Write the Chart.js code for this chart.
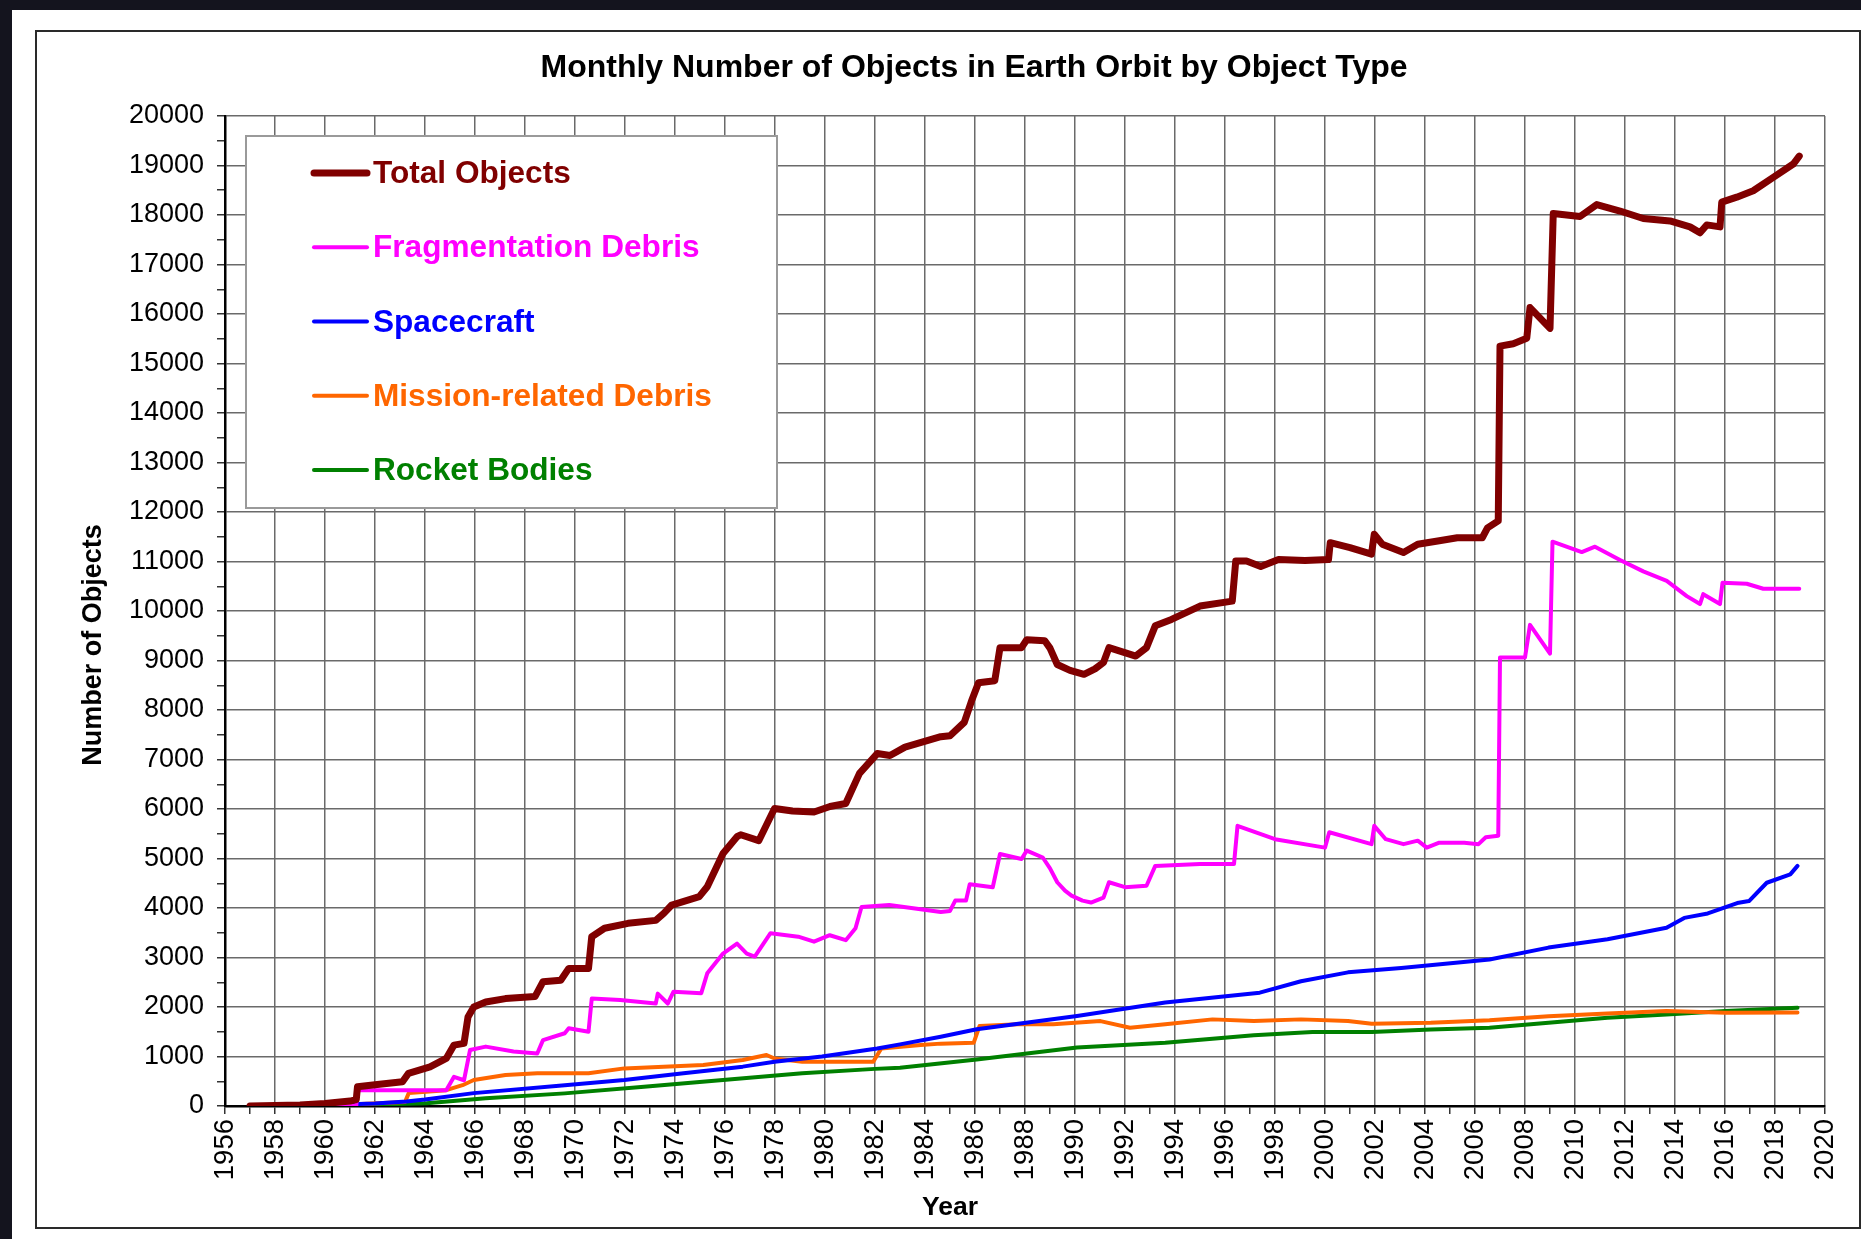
<!DOCTYPE html>
<html>
<head>
<meta charset="utf-8">
<script src="https://cdn.jsdelivr.net/npm/chart.js@4.4.1/dist/chart.umd.min.js"></script>
<style>
html,body{margin:0;padding:0;background:#14141e;overflow:hidden}
canvas{display:block}
</style>
</head>
<body>
<canvas id="c" width="1861" height="1239"></canvas>
<script>
const FONT = "'Liberation Sans', Arial, Helvetica, sans-serif";

const chartTitle = 'Monthly Number of Objects in Earth Orbit by Object Type';
const xAxisTitle = 'Year';
const yAxisTitle = 'Number of Objects';
const seriesNames = ['Total Objects', 'Fragmentation Debris', 'Spacecraft', 'Mission-related Debris', 'Rocket Bodies'];
const seriesColors = ['#800000', '#ff00ff', '#0000ff', '#ff6600', '#008000'];

const xTickMin = 1956, xTickMax = 2020, xTickStep = 1, xLabelEvery = 2;
const yTickMin = 0, yTickMax = 20000, yTickStep = 500, yLabelEvery = 1000;

const totalYears = [1957.0, 1958.0, 1959.0, 1960.0, 1961.0, 1961.25, 1961.3, 1962.0, 1963.1, 1963.34, 1964.2, 1964.85, 1965.16, 1965.56, 1965.72, 1965.95, 1966.43, 1967.22, 1968.4, 1968.72, 1969.43, 1969.75, 1970.54, 1970.67, 1971.18, 1972.12, 1973.23, 1973.55, 1973.87, 1974.97, 1975.29, 1975.92, 1976.48, 1976.63, 1977.35, 1977.98, 1978.7, 1979.56, 1980.2, 1980.83, 1981.38, 1982.09, 1982.6, 1983.2, 1984.63, 1985.0, 1985.57, 1985.86, 1986.14, 1986.79, 1987.0, 1987.86, 1988.07, 1988.79, 1989.0, 1989.29, 1989.8, 1990.36, 1990.8, 1991.14, 1991.36, 1992.43, 1992.86, 1993.21, 1993.86, 1995.0, 1996.29, 1996.43, 1996.86, 1997.43, 1998.14, 1999.2, 2000.14, 2000.21, 2001.0, 2001.86, 2001.97, 2002.29, 2003.14, 2003.71, 2004.57, 2005.29, 2006.29, 2006.5, 2006.93, 2007.0, 2007.53, 2008.07, 2008.2, 2009.0, 2009.13, 2010.2, 2010.87, 2011.8, 2012.73, 2013.8, 2014.6, 2015.0, 2015.27, 2015.8, 2015.87, 2016.47, 2017.13, 2017.93, 2018.73, 2018.97];
const totalValues = [0, 10, 20, 50, 100, 130, 390, 430, 490, 660, 790, 960, 1230, 1265, 1800, 2000, 2100, 2170, 2210, 2510, 2540, 2780, 2780, 3420, 3590, 3690, 3750, 3890, 4060, 4230, 4430, 5100, 5440, 5480, 5360, 6010, 5960, 5940, 6050, 6110, 6720, 7120, 7080, 7250, 7460, 7480, 7750, 8180, 8550, 8590, 9260, 9260, 9420, 9400, 9250, 8920, 8800, 8720, 8830, 8960, 9260, 9090, 9260, 9700, 9830, 10100, 10200, 11010, 11010, 10900, 11040, 11020, 11040, 11380, 11280, 11150, 11550, 11350, 11180, 11350, 11420, 11480, 11480, 11680, 11820, 15350, 15400, 15510, 16130, 15710, 18030, 17970, 18210, 18080, 17930, 17880, 17760, 17640, 17800, 17760, 18260, 18360, 18490, 18760, 19030, 19190];

const fragYears = [1957.0, 1961.25, 1961.3, 1964.85, 1965.16, 1965.56, 1965.8, 1966.43, 1967.54, 1968.49, 1968.72, 1969.59, 1969.75, 1970.54, 1970.67, 1971.81, 1973.23, 1973.31, 1973.71, 1973.94, 1975.05, 1975.29, 1975.92, 1976.48, 1976.87, 1977.19, 1977.82, 1978.93, 1979.56, 1980.19, 1980.83, 1981.22, 1981.46, 1982.57, 1984.63, 1985.0, 1985.21, 1985.64, 1985.79, 1986.71, 1987.0, 1987.86, 1988.07, 1988.71, 1989.0, 1989.29, 1989.6, 1989.86, 1990.3, 1990.64, 1991.14, 1991.36, 1992.0, 1992.86, 1993.21, 1995.0, 1996.36, 1996.5, 1998.0, 2000.0, 2000.17, 2001.86, 2001.97, 2002.43, 2003.14, 2003.71, 2004.07, 2004.57, 2005.57, 2006.14, 2006.43, 2006.93, 2007.0, 2008.0, 2008.2, 2009.0, 2009.1, 2010.27, 2010.8, 2011.8, 2012.73, 2013.67, 2014.47, 2015.0, 2015.13, 2015.8, 2015.9, 2016.87, 2017.53, 2018.97];
const fragValues = [0, 0, 320, 320, 590, 520, 1130, 1200, 1100, 1060, 1330, 1470, 1570, 1500, 2170, 2140, 2070, 2270, 2070, 2310, 2280, 2680, 3080, 3280, 3080, 3020, 3490, 3420, 3320, 3450, 3350, 3590, 4020, 4060, 3920, 3940, 4150, 4150, 4480, 4420, 5090, 4990, 5160, 5020, 4800, 4520, 4350, 4250, 4150, 4110, 4210, 4520, 4420, 4450, 4850, 4890, 4890, 5660, 5390, 5220, 5530, 5290, 5660, 5390, 5290, 5360, 5220, 5320, 5320, 5290, 5430, 5460, 9060, 9060, 9720, 9140, 11400, 11190, 11300, 11030, 10800, 10610, 10300, 10140, 10340, 10140, 10570, 10550, 10450, 10450];

const craftYears = [1957.0, 1960.0, 1962.0, 1963.26, 1964.0, 1965.95, 1969.59, 1971.97, 1974.34, 1976.71, 1977.98, 1979.88, 1982.09, 1983.0, 1984.63, 1986.07, 1990.08, 1993.61, 1997.39, 1999.04, 2000.92, 2003.05, 2006.58, 2008.94, 2011.3, 2013.66, 2014.37, 2015.31, 2016.49, 2016.96, 2017.67, 2018.61, 2018.9];
const craftValues = [0, 20, 50, 90, 130, 260, 420, 525, 660, 795, 895, 1000, 1160, 1245, 1400, 1550, 1820, 2090, 2290, 2520, 2700, 2790, 2960, 3200, 3370, 3600, 3800, 3890, 4100, 4140, 4510, 4680, 4850];

const missionYears = [1957.0, 1961.0, 1963.2, 1963.35, 1964.85, 1965.5, 1965.95, 1967.22, 1968.49, 1970.54, 1971.97, 1973.55, 1975.13, 1976.71, 1977.66, 1977.98, 1979.09, 1981.93, 1982.25, 1983.83, 1984.63, 1985.95, 1986.18, 1987.72, 1989.13, 1991.02, 1992.2, 1993.61, 1995.5, 1997.15, 1999.04, 2000.92, 2001.87, 2004.23, 2006.58, 2008.94, 2011.3, 2013.66, 2016.02, 2018.9];
const missionValues = [0, 30, 80, 260, 320, 420, 525, 625, 660, 660, 760, 795, 830, 930, 1030, 960, 895, 895, 1160, 1230, 1260, 1280, 1615, 1650, 1650, 1715, 1580, 1650, 1750, 1715, 1750, 1715, 1660, 1680, 1730, 1815, 1870, 1920, 1885, 1890];

const rocketYears = [1957.0, 1960.0, 1962.0, 1964.06, 1966.43, 1969.59, 1972.76, 1975.92, 1979.09, 1982.0, 1983.0, 1986.07, 1990.08, 1993.61, 1997.15, 1999.5, 2001.87, 2004.23, 2006.58, 2008.94, 2011.3, 2013.66, 2016.02, 2018.9];
const rocketValues = [0, 10, 30, 55, 155, 255, 390, 525, 660, 750, 775, 940, 1180, 1280, 1430, 1495, 1495, 1545, 1580, 1680, 1785, 1850, 1920, 1985];

const seriesYears = [totalYears, fragYears, craftYears, missionYears, rocketYears];
const seriesValues = [totalValues, fragValues, craftValues, missionValues, rocketValues];
const seriesWidths = [7, 4, 4, 4, 4];

const GRID = '#6a6a6a';
const NONE = 'rgba(0,0,0,0)';

const framePlugin = {
  id: 'frame',
  beforeDraw(chart) {
    const c = chart.ctx, W = chart.width, H = chart.height;
    c.save();
    c.fillStyle = '#14141e';
    c.fillRect(0, 0, W, H);
    c.fillStyle = '#ffffff';
    c.fillRect(12, 10, W - 12, H - 10);
    c.strokeStyle = '#2a2a2a';
    c.lineWidth = 2;
    c.strokeRect(36, 31, W - 37, 1197);
    c.restore();
  }
};

const placeTitles = {
  id: 'placeTitles',
  afterLayout(chart) {
    const t = chart.titleBlock;
    if (t) {
      const half = (t.right - t.left) / 2;
      t.left = 974 - half;
      t.right = 974 + half;
    }
    const xs = chart.scales.x, ys = chart.scales.y;
    if (xs && !xs.__wrapped) {
      const orig = xs.drawTitle;
      xs.drawTitle = function () {
        const l = this.left, r = this.right, h = (r - l) / 2;
        this.left = 950 - h; this.right = 950 + h;
        orig.call(this);
        this.left = l; this.right = r;
      };
      xs.__wrapped = true;
    }
    if (ys && !ys.__wrapped) {
      const orig = ys.drawTitle;
      ys.drawTitle = function () {
        const t0 = this.top, b0 = this.bottom, h = (b0 - t0) / 2;
        this.top = 645 - h; this.bottom = 645 + h;
        orig.call(this);
        this.top = t0; this.bottom = b0;
      };
      ys.__wrapped = true;
    }
  }
};

const boxLegend = {
  id: 'boxLegend',
  afterDatasetsDraw(chart) {
    const {ctx, chartArea} = chart;
    const x0 = chartArea.left + 21, y0 = chartArea.top + 20, w = 531, h = 372;
    ctx.save();
    ctx.fillStyle = '#ffffff';
    ctx.fillRect(x0, y0, w, h);
    ctx.strokeStyle = '#9a9a9a';
    ctx.lineWidth = 2;
    ctx.strokeRect(x0, y0, w, h);
    ctx.font = 'bold 31.6px ' + FONT;
    ctx.textBaseline = 'middle';
    ctx.textAlign = 'left';
    chart.data.datasets.forEach((ds, i) => {
      const y = y0 + 37 + i * 74.25;
      ctx.strokeStyle = ds.borderColor;
      ctx.lineWidth = i === 0 ? 7 : 4;
      ctx.lineCap = 'round';
      ctx.beginPath();
      ctx.moveTo(x0 + 68, y);
      ctx.lineTo(x0 + 121, y);
      ctx.stroke();
      ctx.fillStyle = ds.borderColor;
      ctx.fillText(ds.label, x0 + 127, y + 1.5);
    });
    ctx.restore();
  }
};

const datasets = seriesNames.map((name, i) => ({
  label: name,
  data: seriesYears[i].map((x, k) => ({x: x, y: seriesValues[i][k]})),
  borderColor: seriesColors[i],
  backgroundColor: seriesColors[i],
  borderWidth: seriesWidths[i],
  pointRadius: 0,
  tension: 0,
  fill: false,
  borderJoinStyle: 'round',
  borderCapStyle: 'round'
}));

new Chart(document.getElementById('c'), {
  type: 'line',
  data: { datasets: datasets },
  options: {
    responsive: false,
    animation: false,
    devicePixelRatio: 1,
    layout: { padding: { left: 0, right: 36, top: 0, bottom: 0 } },
    plugins: {
      legend: { display: false },
      tooltip: { enabled: false },
      title: {
        display: true,
        text: chartTitle,
        color: '#000000',
        font: { family: FONT, size: 32, weight: 'bold' },
        padding: { top: 49, bottom: 28.6 }
      }
    },
    scales: {
      x: {
        type: 'linear',
        min: xTickMin,
        max: xTickMax,
        ticks: {
          stepSize: xTickStep,
          autoSkip: false,
          minRotation: 90,
          maxRotation: 90,
          padding: 5,
          color: '#000000',
          font: { family: FONT, size: 27.5 },
          callback: v => (v % xLabelEvery === 0 ? String(v) : '')
        },
        grid: {
          color: c => (c.tick && c.tick.value % xLabelEvery === 0 ? GRID : NONE),
          lineWidth: 1.5,
          tickLength: 8,
          tickColor: '#333333',
          tickWidth: 1.5
        },
        border: { display: true, color: '#000000', width: 2.5 },
        title: {
          display: true,
          text: xAxisTitle,
          color: '#000000',
          font: { family: FONT, size: 26.5, weight: 'bold' },
          padding: { top: 0, bottom: 15 }
        },
        afterFit: s => { s.height = 133; s.paddingLeft = 0; s.paddingRight = 0; }
      },
      y: {
        type: 'linear',
        min: yTickMin,
        max: yTickMax,
        ticks: {
          stepSize: yTickStep,
          autoSkip: false,
          padding: 13,
          color: '#000000',
          font: { family: FONT, size: 27 },
          callback: v => (v % yLabelEvery === 0 ? String(v) : '')
        },
        grid: {
          color: c => (c.tick && c.tick.value % yLabelEvery === 0 ? GRID : NONE),
          lineWidth: 1.5,
          tickLength: 8,
          tickColor: '#333333',
          tickWidth: 1.5
        },
        border: { display: true, color: '#000000', width: 2.5 },
        title: {
          display: true,
          text: yAxisTitle,
          color: '#000000',
          font: { family: FONT, size: 27, weight: 'bold' },
          padding: { top: 77, bottom: 0 }
        },
        afterFit: s => { s.width = 225; s.paddingTop = 0; s.paddingBottom = 0; }
      }
    }
  },
  plugins: [framePlugin, placeTitles, boxLegend]
});
</script>
</body>
</html>
